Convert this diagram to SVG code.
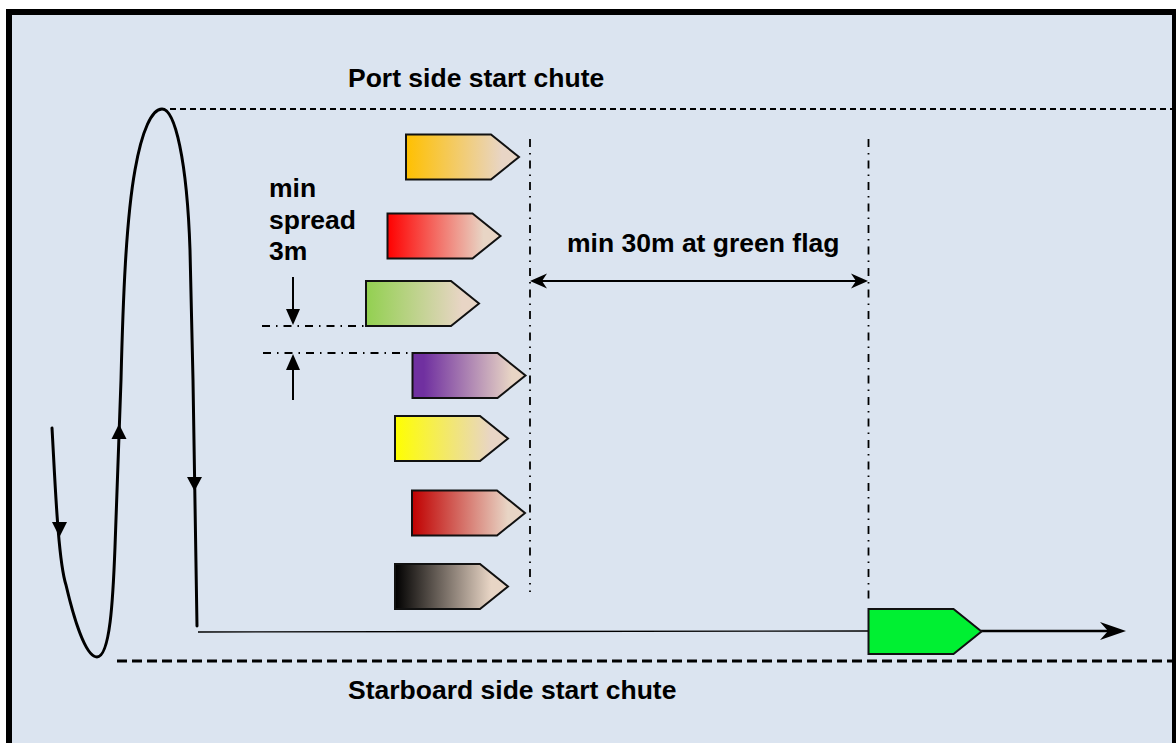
<svg xmlns="http://www.w3.org/2000/svg" width="1176" height="743" viewBox="0 0 1176 743">
  <style>
    .lbl { font-family: "Liberation Sans", Arial, sans-serif; font-weight: bold; font-size: 26.5px; fill: #000; }
    .boat { stroke: #111; stroke-width: 2; stroke-linejoin: miter; }
    .dashdot { fill: none; stroke: #000; stroke-width: 1.8; stroke-dasharray: 8 6 1.5 6; }
    .loop { fill: none; stroke: #000; stroke-width: 3; stroke-linecap: round; stroke-linejoin: round; }
    .head { fill: #000; stroke: none; }
  </style>
  <defs>
    <path id="boat" d="M0,0 H85 L113,22.5 L85,45 H0 Z"/>
    <linearGradient id="gOrange" x1="0" y1="0" x2="1" y2="0"><stop offset="0" stop-color="#ffc000"/><stop offset="0.85" stop-color="#e8d5c5"/></linearGradient>
    <linearGradient id="gRed" x1="0" y1="0" x2="1" y2="0"><stop offset="0" stop-color="#ff0000"/><stop offset="0.85" stop-color="#e8d5c5"/></linearGradient>
    <linearGradient id="gGreen" x1="0" y1="0" x2="1" y2="0"><stop offset="0" stop-color="#92d050"/><stop offset="0.85" stop-color="#e8d5c5"/></linearGradient>
    <linearGradient id="gPurple" x1="0" y1="0" x2="1" y2="0"><stop offset="0" stop-color="#7030a0"/><stop offset="0.1" stop-color="#7030a0"/><stop offset="0.88" stop-color="#e8d5c5"/></linearGradient>
    <linearGradient id="gYellow" x1="0" y1="0" x2="1" y2="0"><stop offset="0" stop-color="#ffff00"/><stop offset="0.85" stop-color="#e8d5c5"/></linearGradient>
    <linearGradient id="gDarkRed" x1="0" y1="0" x2="1" y2="0"><stop offset="0" stop-color="#c00000"/><stop offset="0.85" stop-color="#e8d5c5"/></linearGradient>
    <linearGradient id="gBlack" x1="0" y1="0" x2="1" y2="0"><stop offset="0" stop-color="#000000"/><stop offset="0.85" stop-color="#e8d5c5"/></linearGradient>
  </defs>

  <rect x="0" y="0" width="1176" height="743" fill="#ffffff"/>
  <rect id="frame" x="9" y="12" width="1166" height="745" fill="#dbe4f0" stroke="#000" stroke-width="6"/>

  <g id="chutes">
    <line x1="170" y1="109" x2="1172" y2="109" stroke="#000" stroke-width="1.8" stroke-dasharray="6 4"/>
    <line x1="117" y1="661" x2="1172" y2="661" stroke="#000" stroke-width="2.8" stroke-dasharray="10 5"/>
  </g>

  <g id="labels">
    <text class="lbl" x="348" y="87">Port side start chute</text>
    <text class="lbl" x="348" y="699">Starboard side start chute</text>
    <text class="lbl" x="567" y="252">min 30m at green flag</text>
    <text class="lbl" x="269" y="197">min</text>
    <text class="lbl" x="269" y="228.5">spread</text>
    <text class="lbl" x="269" y="260">3m</text>
  </g>

  <g id="connectors">
    <!-- approach loop -->
    <path class="loop" d="M52,428 C55,480 58,560 66,585 C73,615 85,657 97,657 C110,657 113,600 115,547 L121,380 C123,300 126,220 135,170 C142,130 152,109 162,109 C175,109 187,160 190,250 L193,380 L197,626"/>
    <polygon class="head" points="59.5,537 52,522 67,522"/>
    <polygon class="head" points="119,424 111.5,439 126.5,439"/>
    <polygon class="head" points="194.5,491 187,477 202,477"/>
    <!-- run to start -->
    <line x1="198" y1="632" x2="869" y2="631" stroke="#000" stroke-width="1.4"/>
    <line x1="981" y1="631" x2="1110" y2="631" stroke="#000" stroke-width="2.4"/>
    <polygon class="head" points="1126,631 1100,622 1108,631 1100,640"/>
    <!-- 30m lines -->
    <line class="dashdot" x1="530" y1="139" x2="530" y2="592"/>
    <line class="dashdot" x1="868.5" y1="139" x2="868.5" y2="600"/>
    <line x1="536" y1="281" x2="862" y2="281" stroke="#000" stroke-width="2.2"/>
    <polygon class="head" points="530,281 547,273.5 542,281 547,288.5"/>
    <polygon class="head" points="868,281 851,273.5 856,281 851,288.5"/>
    <!-- spread annotation -->
    <line class="dashdot" x1="262" y1="326" x2="366" y2="326"/>
    <line class="dashdot" x1="263" y1="353" x2="412" y2="353"/>
    <line x1="293" y1="277" x2="293" y2="312" stroke="#000" stroke-width="2"/>
    <polygon class="head" points="293,325 286,309 300,309"/>
    <line x1="293" y1="400" x2="293" y2="367" stroke="#000" stroke-width="2"/>
    <polygon class="head" points="293,354 286,370 300,370"/>
  </g>

  <g id="boat-orange"><use href="#boat" class="boat" x="406" y="134.5" fill="url(#gOrange)"/></g>
  <g id="boat-red"><use href="#boat" class="boat" x="387.5" y="213.5" fill="url(#gRed)"/></g>
  <g id="boat-green"><use href="#boat" class="boat" x="366" y="281" fill="url(#gGreen)"/></g>
  <g id="boat-purple"><use href="#boat" class="boat" x="412.5" y="353" fill="url(#gPurple)"/></g>
  <g id="boat-yellow"><use href="#boat" class="boat" x="395" y="416" fill="url(#gYellow)"/></g>
  <g id="boat-darkred"><use href="#boat" class="boat" x="412" y="490.5" fill="url(#gDarkRed)"/></g>
  <g id="boat-black"><use href="#boat" class="boat" x="395" y="564" fill="url(#gBlack)"/></g>
  <g id="boat-start"><use href="#boat" class="boat" x="868.5" y="609" fill="#00f032"/></g>
</svg>
